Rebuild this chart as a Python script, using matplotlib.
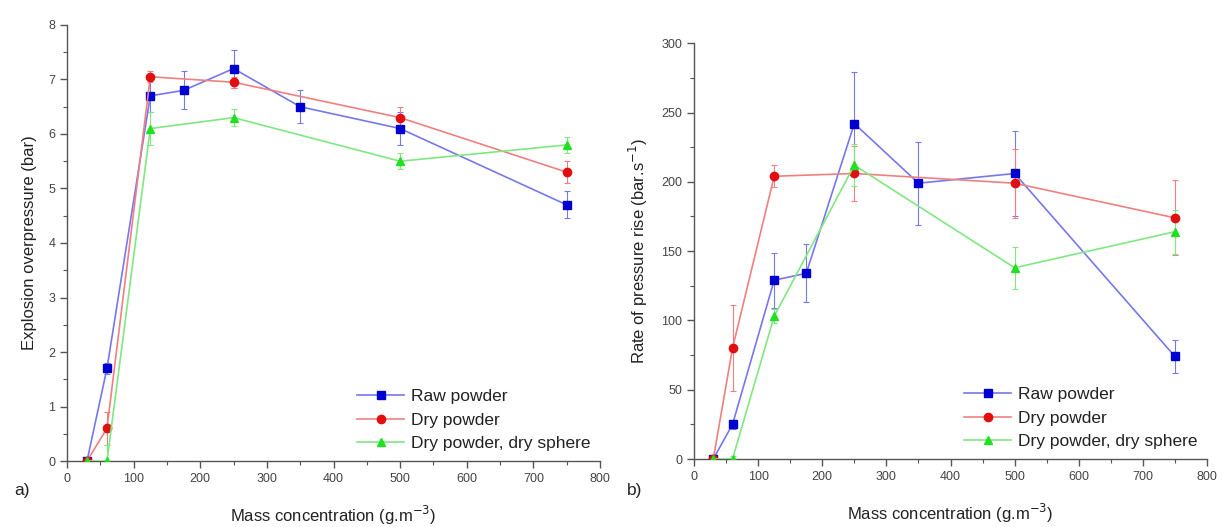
import matplotlib
matplotlib.use("Agg")
import matplotlib.pyplot as plt
from matplotlib.ticker import MultipleLocator

plt.rcParams['font.family'] = ['Liberation Sans', 'DejaVu Sans']

# ---- data: panel a) explosion overpressure (bar)
conc_raw = [30, 60, 125, 175, 250, 350, 500, 750]
p_raw = [0, 1.7, 6.7, 6.8, 7.2, 6.5, 6.1, 4.7]
p_raw_err = [0, 0.1, 0.3, 0.35, 0.35, 0.3, 0.3, 0.25]

conc_dry = [30, 60, 125, 250, 500, 750]
p_dry = [0, 0.6, 7.05, 6.95, 6.3, 5.3]
p_dry_err = [0, 0.3, 0.1, 0.1, 0.2, 0.2]

conc_sph = [30, 60, 125, 250, 500, 750]
p_sph = [0, 0, 6.1, 6.3, 5.5, 5.8]
p_sph_err = [0, 0.3, 0.3, 0.15, 0.15, 0.15]

# ---- data: panel b) rate of pressure rise (bar/s)
r_raw = [0, 25, 129, 134, 242, 199, 206, 74]
r_raw_err = [0, 3, 20, 21, 37, 30, 31, 12]
r_dry = [0, 80, 204, 206, 199, 174]
r_dry_err = [0, 31, 8, 20, 25, 27]
r_sph = [0, 0, 103, 212, 138, 164]
r_sph_err = [0, 2, 5, 15, 15, 16]

labels = ["Raw powder", "Dry powder", "Dry powder, dry sphere"]
c_raw, c_dry, c_sph = "#0000d0", "#e01010", "#20e020"
l_raw, l_dry, l_sph = "#7777ee", "#f08080", "#80e880"

fig = plt.figure(figsize=(12.23, 5.27), dpi=100)
axa = fig.add_axes([0.0548, 0.1252, 0.4358, 0.8274])
axb = fig.add_axes([0.5675, 0.129, 0.4194, 0.789])

def draw(ax, ys, errs):
    series = [(conc_raw, ys[0], errs[0], c_raw, l_raw, 's'),
              (conc_dry, ys[1], errs[1], c_dry, l_dry, 'o'),
              (conc_sph, ys[2], errs[2], c_sph, l_sph, '^')]
    for (x, y, e, c, lc, m), lab in zip(series, labels):
        ax.errorbar(x, y, yerr=e, fmt='none', ecolor=lc, elinewidth=0.8,
                    capsize=2, capthick=0.8, zorder=2)
        ax.plot(x, y, color=lc, lw=1.2, marker=m, markersize=6,
                markerfacecolor=c, markeredgecolor=c, label=lab, zorder=3)
    ax.spines['top'].set_visible(False)
    ax.spines['right'].set_visible(False)
    for s in ('left', 'bottom'):
        ax.spines[s].set_color('#555555')
        ax.spines[s].set_linewidth(1.0)
    ax.set_xlim(0, 800)
    ax.xaxis.set_major_locator(MultipleLocator(100))
    ax.xaxis.set_minor_locator(MultipleLocator(50))
    ax.tick_params(which='major', direction='out', length=5, width=1, color='#555555',
                   labelsize=9, labelcolor='#444444')
    ax.tick_params(which='minor', direction='out', length=3, width=0.8, color='#555555')
    ax.set_xlabel("Mass concentration (g.m$^{-3}$)", fontsize=12, color='#222222', labelpad=14)
    leg = ax.legend(loc='lower right', frameon=False, fontsize=12.5, handlelength=2.7,
                    labelspacing=0.5, borderaxespad=0.15, handletextpad=0.4)
    for t in leg.get_texts():
        t.set_color('#222222')

draw(axa, [p_raw, p_dry, p_sph], [p_raw_err, p_dry_err, p_sph_err])
axa.set_ylim(0, 8)
axa.yaxis.set_major_locator(MultipleLocator(1))
axa.yaxis.set_minor_locator(MultipleLocator(0.5))
axa.set_ylabel("Explosion overpressure (bar)", fontsize=12, color='#222222', labelpad=8)

draw(axb, [r_raw, r_dry, r_sph], [r_raw_err, r_dry_err, r_sph_err])
axb.set_ylim(0, 300)
axb.yaxis.set_major_locator(MultipleLocator(50))
axb.yaxis.set_minor_locator(MultipleLocator(25))
axb.set_ylabel("Rate of pressure rise (bar.s$^{-1}$)", fontsize=12, color='#222222', labelpad=8)

fig.text(0.012, 0.06, "a)", fontsize=12.5, color='#222222')
fig.text(0.513, 0.06, "b)", fontsize=12.5, color='#222222')

fig.savefig("out.png", dpi=100)
